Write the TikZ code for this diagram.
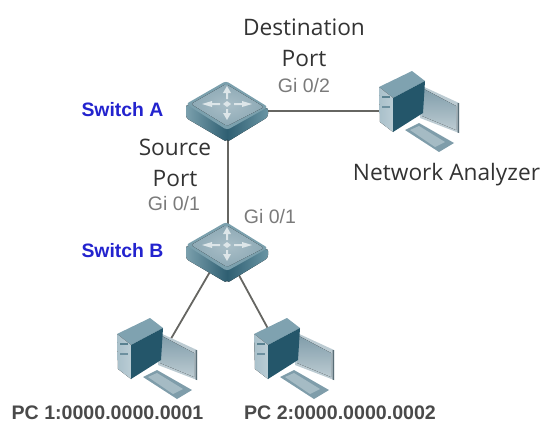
\documentclass[tikz,border=0pt]{standalone}
\usepackage{fontspec}
\setmainfont{Open Sans}
\newfontfamily\lab{Liberation Sans}
\definecolor{linec}{HTML}{666662}
\definecolor{topc}{HTML}{8DA9B5}
\definecolor{topin}{HTML}{A9BEC7}
\definecolor{edgec}{HTML}{7BA0AD}
\definecolor{darkc}{HTML}{2F5F72}
\definecolor{midc}{HTML}{6A95A4}
\definecolor{arrowc}{HTML}{DDE6E9}
\definecolor{towerl}{HTML}{A9C0CA}
\definecolor{towert}{HTML}{7FA2B0}
\definecolor{towerd}{HTML}{24566A}
\definecolor{screenc}{HTML}{7F9CA9}
\definecolor{bezel}{HTML}{BCCBD2}
\definecolor{kbd}{HTML}{7F9DAA}
\definecolor{kbdin}{HTML}{A5BBC4}
\definecolor{labblue}{HTML}{2323CE}
\definecolor{labgray}{HTML}{7A7A7A}
\definecolor{labdark}{HTML}{4A4A4A}
\tikzset{
  link/.style={draw=linec,line width=1.8pt},
  anchorbox/.style={inner sep=0pt,minimum width=16pt,minimum height=16pt},
  bigtext/.style={inner sep=0pt,font=\fontsize{22.7}{31}\selectfont,text=black!80,align=center},
  porttext/.style={inner sep=0pt,font=\lab\fontsize{19.5}{22}\selectfont,text=labgray},
  swtext/.style={inner sep=0pt,font=\lab\bfseries\fontsize{19.4}{22}\selectfont,text=labblue},
  pctext/.style={inner sep=0pt,font=\lab\bfseries\fontsize{19.6}{22}\selectfont,text=labdark},
  switchicon/.pic={
    \fill[rounded corners=3pt,left color=edgec,right color=darkc] (-41,-9)--(0,14)--(0,29)--(-41,5)--cycle;
    \fill[rounded corners=3pt,left color=darkc,right color=midc] (0,14)--(41,-6)--(41,4)--(0,29)--cycle;
    \fill[rounded corners=3pt,edgec] (-41,-9)--(-1,-32)--(41,-6)--(0,17)--cycle;
    \fill[rounded corners=2pt,inner color=topin,outer color=topc] (-36,-9)--(-1,-29)--(37,-6)--(0,13)--cycle;
    % four arrows round the centre (0,-9)
    \fill[arrowc] (7,-10)--(15,-10)--(15,-12)--(25,-9)--(15,-6)--(15,-8)--(7,-8)--cycle;
    \fill[arrowc] (-7,-10)--(-15,-10)--(-15,-12)--(-25,-9)--(-15,-6)--(-15,-8)--(-7,-8)--cycle;
    \fill[arrowc] (-1,-14)--(-1,-20)--(-4,-20)--(0,-27)--(4,-20)--(1,-20)--(1,-14)--cycle;
    \fill[arrowc] (-1,-4)--(-1,0)--(-4,0)--(0,7)--(4,0)--(1,0)--(1,-4)--cycle;
    \fill[arrowc] (-4,-9)--(0,-12)--(4,-9)--(0,-6)--cycle;
  },
  pcicon/.pic={
    \fill[bezel] (60,15)--(99,33)--(99,63)--(60,48)--cycle;
    \fill[screenc!70!black] (97.5,33)--(99,33)--(99,63)--(97.5,62.5)--cycle;
    \fill[top color=screenc,bottom color=bezel] (62,18)--(96,36)--(96,60)--(62,46)--cycle;
    \fill[towert] (19,17)--(52,1)--(65,11)--(33,28)--cycle;
    \fill[left color=towerl,right color=towerl!80!white] (19,17)--(33,28)--(33,62)--(20,52)--cycle;
    \fill[towerd] (33,28)--(65,11)--(63,43)--(33,62)--cycle;
    \fill[towerd!60!towerl] (22,26) rectangle (30,28);
    \fill[towerd!45!towerl] (22,36) rectangle (30,37.5);
    \fill[kbd] (45,60)--(59,53)--(94,73)--(79,82)--cycle;
    \fill[kbdin] (50,60)--(59,56)--(85,72)--(75,77)--cycle;
  }
}
\begin{document}
\begin{tikzpicture}[x=1pt,y=-1pt]
\useasboundingbox (0,0) rectangle (544,423);
% connection points
\node[anchorbox] (swA) at (228,111) {};
\node[anchorbox] (swB) at (228,255) {};
\node[anchorbox] (na) at (390,111) {};
\node[anchorbox] (pcone) at (165,349) {};
\node[anchorbox] (pctwo) at (272,336) {};
% connectors
\draw[link] (swA.center) -- (na.center);
\draw[link] (swA.center) -- (swB.center);
\draw[link] (swB.west) -- (pcone.center);
\draw[link] (swB.center) -- (pctwo.center);
% icons
\pic at (227,113) {switchicon};
\pic at (227,254) {switchicon};
\pic at (360,70) {pcicon};
\pic at (98,317) {pcicon};
\pic at (235,317) {pcicon};
% texts
\node[bigtext] (t1) at (304,42.5) {Destination\\Port};
\node[porttext] (t2) at (304,86) {Gi 0/2};
\node[swtext] (t3) at (122.5,110) {Switch A};
\node[bigtext] (t4) at (175,162.5) {Source\\Port};
\node[porttext] (t5) at (174,204) {Gi 0/1};
\node[porttext] (t6) at (270,217) {Gi 0/1};
\node[swtext] (t7) at (122.5,251) {Switch B};
\node[bigtext] (t8) at (446.5,175) {Network Analyzer};
\node[pctext] (t9) at (107.5,413) {PC 1:0000.0000.0001};
\node[pctext] (t10) at (340,413) {PC 2:0000.0000.0002};
\end{tikzpicture}
\end{document}
